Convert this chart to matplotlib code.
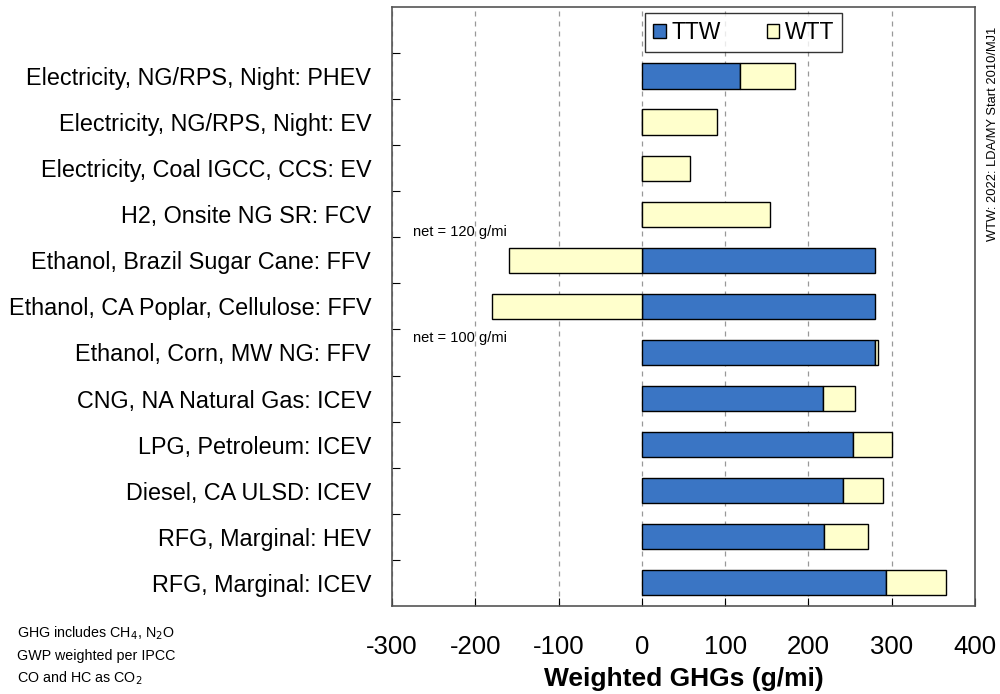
import matplotlib.pyplot as plt
import numpy as np

plt.rcParams['font.family'] = ['Liberation Sans', 'DejaVu Sans']
plt.rcParams['axes.unicode_minus'] = False

# bottom to top
pathways = ["RFG, Marginal: ICEV", "RFG, Marginal: HEV", "Diesel, CA ULSD: ICEV",
            "LPG, Petroleum: ICEV", "CNG, NA Natural Gas: ICEV", "Ethanol, Corn, MW NG: FFV",
            "Ethanol, CA Poplar, Cellulose: FFV", "Ethanol, Brazil Sugar Cane: FFV",
            "H2, Onsite NG SR: FCV", "Electricity, Coal IGCC, CCS: EV",
            "Electricity, NG/RPS, Night: EV", "Electricity, NG/RPS, Night: PHEV"]
ttw = [293, 219, 241, 253, 218, 280, 280, 280, 0, 0, 0, 118]
wtt = [72, 52, 48, 47, 38, 3, -180, -160, 154, 58, 90, 66]
notes = [("net = 100 g/mi", 5.31), ("net = 120 g/mi", 7.61)]

ttw = np.array(ttw)
wtt = np.array(wtt)
y = np.arange(len(pathways))
wtt_left = np.where(wtt >= 0, ttw, 0)

fig = plt.figure(figsize=(10, 6.94), dpi=100)
ax = fig.add_axes([0.392, 0.127, 0.583, 0.863])

bh = 0.55
ax.barh(y, ttw, height=bh, color='#3A75C4', edgecolor='black', linewidth=1, label='TTW', zorder=3)
ax.barh(y, wtt, left=wtt_left, height=bh, color='#FFFFCC', edgecolor='black', linewidth=1, label='WTT', zorder=3)

ax.set_xlim(-300, 400)
ax.set_ylim(-0.5, len(pathways) + 0.5)
ax.set_xticks(np.arange(-300, 401, 100))
ax.tick_params(axis='x', direction='in', length=6, labelsize=18.5, pad=21)
ax.xaxis.grid(True, linestyle=(0, (4, 4)), color='#999999', linewidth=0.9)

ax.set_yticks(np.arange(len(pathways)) + 0.5)
ax.set_yticklabels([])
ax.tick_params(axis='y', which='major', direction='in', length=6)
ax.set_yticks(y, minor=True)
ax.set_yticklabels(pathways, minor=True, fontsize=16.8)
ax.tick_params(axis='y', which='minor', length=0, pad=15)

for s in ax.spines.values():
    s.set_color('#555555')
    s.set_linewidth(1.2)

ax.set_xlabel('Weighted GHGs (g/mi)', fontsize=19, fontweight='bold', labelpad=6)

for txt, yy in notes:
    ax.text(-275, yy, txt, fontsize=10.5, va='center')

leg = ax.legend(loc='upper left', bbox_to_anchor=(0.434, 0.99), ncol=2, fontsize=16.5,
                frameon=True, fancybox=False, edgecolor='black', handlelength=0.55,
                handleheight=0.55, handletextpad=0.25, columnspacing=2.0, borderpad=0.35,
                borderaxespad=0)
leg.get_frame().set_linewidth(1)

fig.text(0.017, 0.088, 'GHG includes CH$_4$, N$_2$O', fontsize=10.3, va='center')
fig.text(0.017, 0.055, 'GWP weighted per IPCC', fontsize=10.3, va='center')
fig.text(0.017, 0.023, 'CO and HC as CO$_2$', fontsize=10.3, va='center')
fig.text(0.993, 0.807, 'WTW: 2022: LDA/MY Start 2010/MJ1', fontsize=9.3, rotation=90,
         ha='center', va='center')

fig.savefig('out.png', dpi=100)
